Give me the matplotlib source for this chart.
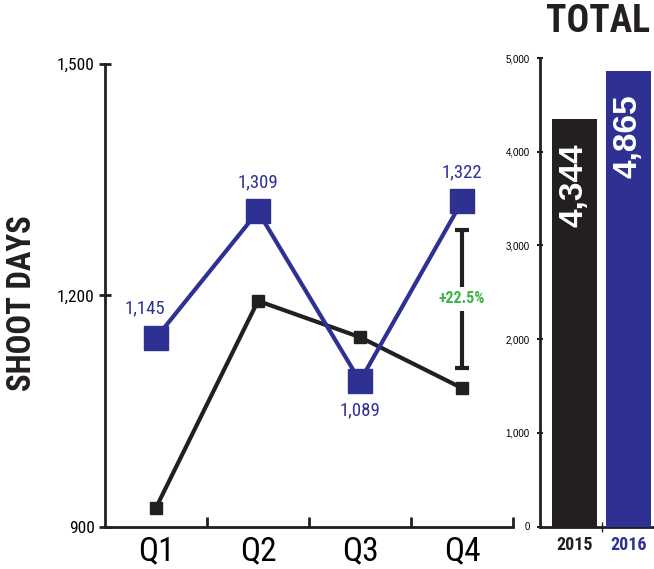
import matplotlib
matplotlib.use("Agg")
import matplotlib.pyplot as plt
from matplotlib.ticker import FixedLocator

# data
quarters = ["Q1", "Q2", "Q3", "Q4"]
days_2015 = [925, 1193, 1146, 1080]
days_2016 = [1145, 1309, 1089, 1322]
label_2016 = ["1,145", "1,309", "1,089", "1,322"]
label_pos = ["above", "above", "below", "above"]

years = ["2015", "2016"]
totals = [4344, 4865]
total_labels = ["4,344", "4,865"]

change_text = "+22.5%"
bracket_low = 1106
bracket_high = 1285

left_ticks = [900, 1200, 1500]
left_ticklabels = ["900", "1,200", "1,500"]
right_ticks = [0, 1000, 2000, 3000, 4000, 5000]
right_ticklabels = ["0", "1,000", "2,000", "3,000", "4,000", "5,000"]

BLUE = "#2e3192"
BLACK = "#231f20"
GREEN = "#39b54a"

COND = "Roboto Condensed"
REG = "Liberation Sans"

fig = plt.figure(figsize=(6.54, 5.69), dpi=100)
W, H = 654.0, 569.0

# line chart axes
ax = fig.add_axes([105 / W, (H - 527) / H, 408 / W, 463 / H])
x = list(range(len(quarters)))
ax.plot(x, days_2015, color=BLACK, lw=3, marker="s", ms=9, zorder=3)
ax.plot(x, days_2016, color=BLUE, lw=3, marker="s", ms=17, zorder=4)

for i, (v, t, p) in enumerate(zip(days_2016, label_2016, label_pos)):
    dy = 21 if p == "above" else -21
    dx = -8 if i == 0 else 0
    ax.annotate(t, (i, v), xytext=(dx, dy), textcoords="offset points",
                ha="center", va="center", color=BLUE, fontsize=13.5, family=COND)

# change bracket
ax.errorbar([3], [(bracket_low + bracket_high) / 2],
            yerr=[[(bracket_high - bracket_low) / 2]], color=BLACK,
            elinewidth=3, capsize=5, capthick=3, zorder=2)
ax.text(3, (bracket_low + bracket_high) / 2, change_text, color=GREEN,
        fontsize=11.5, fontweight="bold", family=COND, ha="center", va="center",
        bbox=dict(facecolor="white", edgecolor="none", pad=3), zorder=5)

ax.set_xlim(-0.5, 3.5)
ax.set_ylim(900, 1500)
ax.set_xticks(x)
ax.set_xticklabels(quarters, family=COND, fontsize=24)
ax.xaxis.set_minor_locator(FixedLocator([0.5, 1.5, 2.5, 3.5]))
ax.tick_params(axis="x", which="major", length=0, pad=6)
ax.tick_params(axis="x", which="minor", direction="in", length=7, width=2, color=BLACK)
ax.set_yticks(left_ticks)
ax.set_yticklabels(left_ticklabels, family=COND, fontsize=12.5)
ax.tick_params(axis="y", direction="inout", length=9, width=2, color=BLACK, pad=3)
for s in ["top", "right"]:
    ax.spines[s].set_visible(False)
for s in ["left", "bottom"]:
    ax.spines[s].set_linewidth(2)
    ax.spines[s].set_color(BLACK)

fig.text(22 / W, 1 - 303 / H, "SHOOT DAYS", family=COND, fontweight="bold",
         fontsize=23.5, rotation=90, ha="center", va="center", color=BLACK)

# totals bar axes
bx = fig.add_axes([540 / W, (H - 526.5) / H, 114 / W, 468.5 / H])
bx.bar([0, 1], totals, width=45 / 54, color=[BLACK, BLUE], zorder=3)
for i, (v, t) in enumerate(zip(totals, total_labels)):
    bx.annotate(t, (i, v), xytext=(0, -17), textcoords="offset points",
                rotation=90, ha="center", va="top", color="white",
                fontsize=24, fontweight="bold", family=REG, zorder=4)
bx.set_xlim(-34.5 / 54, 1 + 25.5 / 54)
bx.set_ylim(0, 5000)
bx.set_xticks([0, 1])
bx.set_xticklabels(years, family=COND, fontsize=13, fontweight="bold")
for lab, c in zip(bx.get_xticklabels(), [BLACK, BLUE]):
    lab.set_color(c)
bx.xaxis.set_minor_locator(FixedLocator([0.5]))
bx.tick_params(axis="x", which="major", length=0, pad=7)
bx.tick_params(axis="x", which="minor", direction="inout", length=7, width=1, color=BLACK)
bx.set_yticks(right_ticks)
bx.set_yticklabels(right_ticklabels, family=REG, fontsize=7)
bx.tick_params(axis="y", direction="inout", length=5, width=1.5, color=BLACK, pad=5)
for s in ["top", "right"]:
    bx.spines[s].set_visible(False)
for s in ["left", "bottom"]:
    bx.spines[s].set_linewidth(2)
    bx.spines[s].set_color(BLACK)

fig.text(598 / W, 1 - 22 / H, "TOTAL", family=COND, fontweight="bold",
         fontsize=27, ha="center", va="center", color=BLACK)

fig.savefig("out.png", dpi=100)
